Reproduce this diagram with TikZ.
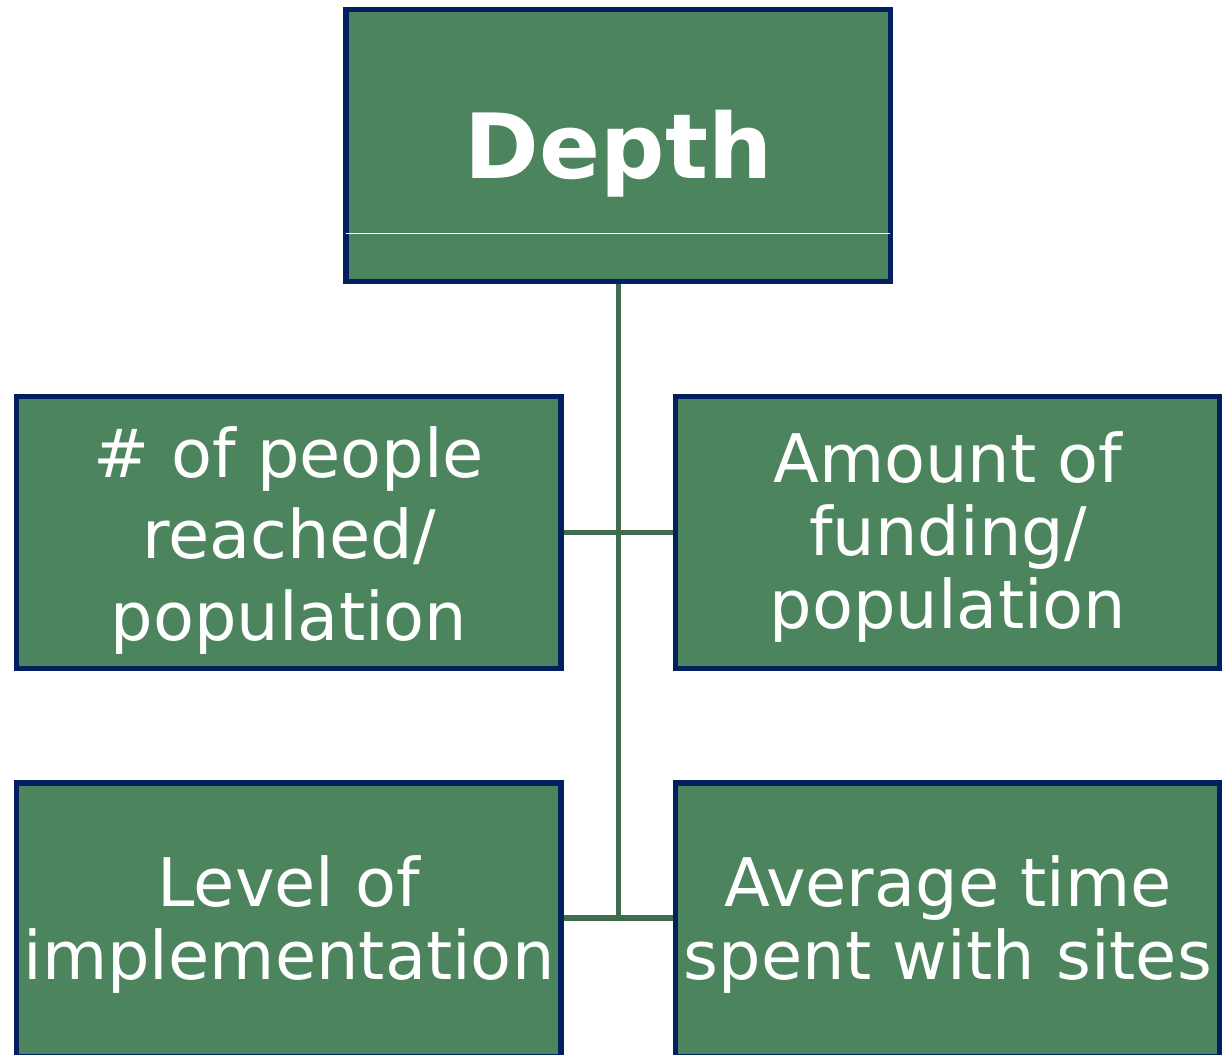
\documentclass[tikz,border=0pt]{standalone}
\usepackage{fontspec}
\setmainfont{DejaVu Sans}
\definecolor{boxfill}{RGB}{76,132,94}
\definecolor{boxline}{RGB}{2,32,96}
\definecolor{connline}{RGB}{64,107,77}
\begin{document}
\begin{tikzpicture}[x=1pt,y=-1pt,
  box/.style={draw=boxline, fill=boxfill, line width=5.5pt, inner sep=0pt, outer sep=2.75pt,
              minimum width=544.5pt, minimum height=272pt},
  conn/.style={draw=connline, line width=5.5pt},
  lbl/.style={text=white, anchor=base, inner sep=0pt, align=center},
  body/.style={font=\fontsize{67}{73}\selectfont},
  bodywide/.style={font=\fontsize{67}{81.5}\selectfont},
  title/.style={font=\fontsize{90}{100}\selectfont\bfseries}]
\useasboundingbox (0,0) rectangle (1222,1054);
\fill[white] (0,0) rectangle (1222,1054);
% boxes
\node[box] (top) at (618.25,145.6) {};
\node[box] (ml) at (288.9,532.6) {};
\node[box] (mr) at (947.75,532.6) {};
\node[box, minimum height=274pt] (bl) at (288.9,920) {};
\node[box, minimum height=274pt] (br) at (947.75,920) {};
% inner white rule of the top box
\draw[white, line width=1pt] ([xshift=3pt,yshift=-87.4pt]top.west) -- ([xshift=-3pt,yshift=-87.4pt]top.east);
% connectors
\draw[conn] (top.south) -- ([yshift=2pt]top.south |- bl.east);
\draw[conn] (ml.east) -- (mr.west);
\draw[conn] ([yshift=2pt]bl.east) -- ([yshift=2pt]br.west);
% labels
\node[lbl, title] (tdepth) at (618.5,178) {Depth};
\node[lbl, bodywide] (tml) at (289,477) {\begin{tabular}[t]{@{}c@{}}\# of people\\ reached/\\ population\end{tabular}};
\node[lbl, body] (tmr) at (948,482) {\begin{tabular}[t]{@{}c@{}}Amount of\\ funding/\\ population\end{tabular}};
\node[lbl, body] (tbl) at (289,906) {\begin{tabular}[t]{@{}c@{}}Level of\\ implementation\end{tabular}};
\node[lbl, body] (tbr) at (948,906) {\begin{tabular}[t]{@{}c@{}}Average time\\ spent with sites\end{tabular}};
\end{tikzpicture}
\end{document}
